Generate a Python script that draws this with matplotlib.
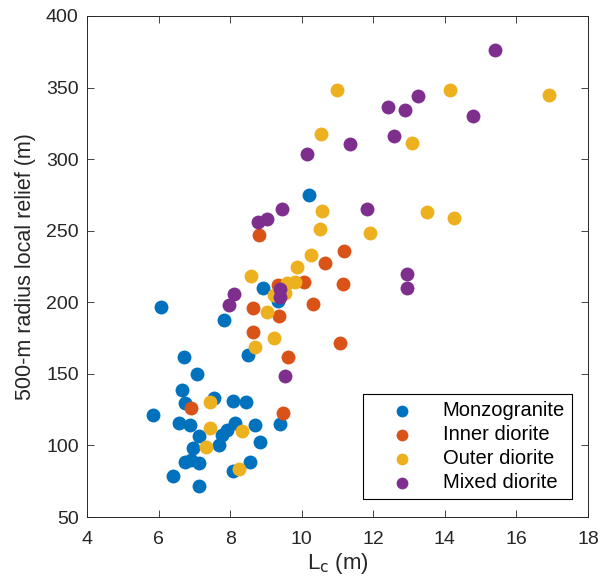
import matplotlib
matplotlib.use("Agg")
from matplotlib import pyplot as plt

plt.rcParams['font.family'] = ['Liberation Sans', 'DejaVu Sans']

# Monzogranite
mz_x = [6.06, 10.20, 8.93, 9.34, 7.84, 8.49, 6.72, 7.08, 6.66, 6.73, 7.54, 8.07, 8.44,
        5.84, 6.58, 6.88, 7.14, 7.76, 7.90, 8.13, 7.70, 8.69, 9.38, 8.83, 6.97, 6.74,
        6.90, 7.14, 8.55, 8.09, 6.39, 7.14]
mz_y = [196.5, 275.2, 210.0, 201.0, 187.5, 163.0, 162.0, 150.0, 138.7, 130.0, 133.0, 131.3, 130.7,
        121.0, 116.0, 114.5, 106.5, 107.5, 111.0, 115.5, 100.5, 114.3, 115.0, 102.5, 98.0, 88.6,
        90.0, 88.0, 88.6, 82.0, 79.0, 71.5]

# Inner diorite
in_x = [8.80, 11.17, 10.66, 10.07, 11.14, 9.34, 10.32, 8.65, 9.37, 8.65, 11.08, 9.62, 6.91, 9.49]
in_y = [246.8, 236.0, 227.3, 214.4, 213.0, 212.0, 198.8, 195.8, 190.4, 179.5, 171.7, 162.0, 126.4, 123.0]

# Outer diorite
out_x = [10.98, 14.14, 16.90, 10.53, 13.09, 10.57, 13.50, 14.25, 10.50, 11.91, 10.26, 9.87, 8.58,
         9.81, 9.60, 9.22, 9.53, 9.04, 9.22, 8.69, 7.44, 7.44, 8.32, 7.32, 8.26]
out_y = [348.0, 348.3, 345.0, 317.6, 311.0, 264.0, 263.3, 258.7, 251.2, 248.2, 233.0, 224.4, 218.4,
         214.4, 213.7, 205.0, 206.7, 193.4, 174.8, 169.0, 130.5, 112.0, 110.3, 99.1, 83.3]

# Mixed diorite
mx_x = [15.40, 13.24, 12.40, 12.89, 14.78, 12.58, 11.35, 10.15, 11.82, 9.45, 9.03, 8.77,
        12.93, 12.93, 9.39, 9.39, 8.11, 7.98, 9.54]
mx_y = [376.2, 344.0, 336.6, 334.3, 330.0, 316.4, 310.4, 303.6, 265.4, 265.4, 258.0, 256.0,
        219.8, 209.8, 209.0, 203.5, 206.0, 198.0, 148.3]

groups = [
    (mz_x, mz_y, "#0072BD", "Monzogranite"),
    (in_x, in_y, "#D95319", "Inner diorite"),
    (out_x, out_y, "#EDB120", "Outer diorite"),
    (mx_x, mx_y, "#7E2F8E", "Mixed diorite"),
]

fig = plt.figure(figsize=(6.01, 5.88), dpi=100)
ax = fig.add_axes([0.1448, 0.1207, 0.8336, 0.8521])

for xs, ys, col, name in groups:
    ax.scatter(xs, ys, s=100, c=col, linewidths=0, label=name)

ax.set_xlim(4, 18)
ax.set_ylim(50, 400)
ax.set_xticks(range(4, 19, 2))
ax.set_yticks(range(50, 401, 50))
ax.tick_params(direction="in", top=True, right=True, length=5, width=0.6,
               labelsize=14, colors="#262626")
ax.tick_params(axis="x", pad=10)
ax.tick_params(axis="y", pad=6)
for sp in ax.spines.values():
    sp.set_color("#262626")
    sp.set_linewidth(0.7)

ax.set_xlabel(r"L$_\mathrm{c}$ (m)", fontsize=16, color="#262626", labelpad=2)
ax.set_ylabel("500-m radius local relief (m)", fontsize=15.5, color="#262626", labelpad=7)

leg = ax.legend(loc="lower right", bbox_to_anchor=(0.968, 0.036), borderaxespad=0,
                fontsize=14.5, markerscale=0.85, handlelength=3.2, handletextpad=0.4,
                labelspacing=0.24, borderpad=0.35, fancybox=False, framealpha=1,
                edgecolor="black")
leg.get_frame().set_linewidth(0.8)

fig.savefig("out.png", dpi=100)
